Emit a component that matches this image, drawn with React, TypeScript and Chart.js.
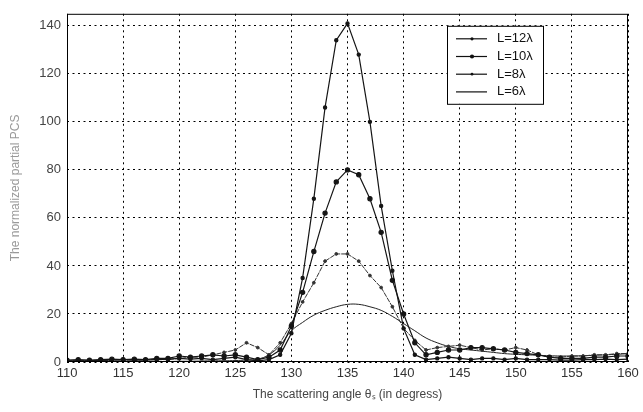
import { useEffect, useRef } from "react";
import { Chart, registerables } from "chart.js";

Chart.register(...registerables);

const angles = [
  110, 111, 112, 113, 114, 115, 116, 117, 118, 119,
  120, 121, 122, 123, 124, 125, 126, 127, 128, 129,
  130, 131, 132, 133, 134, 135, 136, 137, 138, 139,
  140, 141, 142, 143, 144, 145, 146, 147, 148, 149,
  150, 151, 152, 153, 154, 155, 156, 157, 158, 159, 160,
];

const l12 = [
  0.5, 0.5, 0.5, 0.8, 0.8, 1, 0.8, 0.8, 1, 1.2,
  1.5, 1.2, 1.5, 1, 1.5, 2, 1, 0.5, 1, 3,
  12, 35, 68, 106, 134, 141, 128, 100, 65, 38,
  14, 3, 1, 1.5, 2, 1.5, 1, 1.5, 1.5, 1,
  1.5, 1, 1, 1, 0.8, 0.8, 1, 1, 1.2, 1, 1.2,
];

const l10 = [
  0.8, 1, 0.8, 1, 1.2, 1, 1.2, 1, 1.5, 1.5,
  2.5, 2, 2.5, 3, 2.5, 3, 2, 1, 2, 5,
  15, 29, 46, 62, 75, 80, 78, 68, 54, 34,
  20, 8, 3, 4, 5, 5, 6, 6, 5.5, 5,
  4, 3.5, 3, 2, 1.5, 1.5, 1.5, 2, 2, 2.5, 2.5,
];

const l8 = [
  0.3, 0.5, 0.5, 0.5, 0.8, 0.8, 0.8, 1, 1, 1,
  1.5, 2, 2, 3, 4, 5, 8, 6, 3, 8,
  16, 25, 33, 42, 45, 45, 42, 36, 31, 23,
  14, 9, 5, 6, 6.5, 7, 6, 5, 5.5, 5,
  6, 5, 3, 2, 2, 2.5, 2.5, 3, 3, 3.5, 3.5,
];

const l6 = [
  0.2, 0.2, 0.2, 0.2, 0.2, 0.2, 0.2, 0.2, 0.2, 0.2,
  0.3, 0.3, 0.4, 0.5, 0.5, 0.6, 0.8, 1.2, 3, 7,
  13, 16.5, 19.5, 21.5, 23, 24, 24, 23, 21.5, 19,
  16, 13, 10, 8, 6.5, 5.5, 5, 4.5, 4, 3.5,
  3.2, 3, 2.8, 2.6, 2.5, 2.5, 2.6, 2.8, 3, 3.2, 3.5,
];

const seriesLabels = ["L=12\u03bb", "L=10\u03bb", "L=8\u03bb", "L=6\u03bb"];
const yTicks = [0, 20, 40, 60, 80, 100, 120, 140];
const xTicks = [110, 115, 120, 125, 130, 135, 140, 145, 150, 155, 160];

const pts = (ys: number[]) => angles.map((x, i) => ({ x, y: ys[i] }));

const framePlugin = {
  id: "frame",
  afterDraw(chart: any) {
    const { ctx, chartArea: a } = chart;
    ctx.save();
    ctx.strokeStyle = "#000";
    ctx.lineWidth = 1;
    ctx.strokeRect(a.left + 0.5, a.top + 0.5, a.right - a.left - 1, a.bottom - a.top - 1);
    // legend box
    const w = 96;
    const h = 78;
    const bx = a.right - 85 - w;
    const by = a.top + 12;
    ctx.fillStyle = "#fff";
    ctx.fillRect(bx, by, w, h);
    ctx.strokeRect(bx + 0.5, by + 0.5, w, h);
    ctx.font = "13px 'Liberation Sans', Arial, sans-serif";
    ctx.textBaseline = "middle";
    chart.data.datasets.forEach((ds: any, i: number) => {
      const y = by + 13 + i * 17.7;
      ctx.strokeStyle = "#111";
      ctx.lineWidth = 1.2;
      ctx.beginPath();
      ctx.moveTo(bx + 9, y);
      ctx.lineTo(bx + 40, y);
      ctx.stroke();
      if (ds.pointRadius > 0) {
        ctx.fillStyle = "#111";
        ctx.beginPath();
        ctx.arc(bx + 25, y, ds.pointRadius, 0, Math.PI * 2);
        ctx.fill();
      }
      ctx.fillStyle = "#111";
      ctx.textAlign = "left";
      ctx.fillText(ds.label, bx + 50, y);
    });
    ctx.restore();
  },
};

export default function App() {
  const ref = useRef<HTMLCanvasElement>(null);
  useEffect(() => {
    if (!ref.current) return;
    const line = "#151515";
    const chart = new Chart(ref.current, {
      type: "line",
      data: {
        datasets: [
          { label: seriesLabels[0], data: pts(l12), borderColor: line, backgroundColor: line, borderWidth: 1.2, pointRadius: 1.6, pointStyle: "circle", tension: 0 },
          { label: seriesLabels[1], data: pts(l10), borderColor: line, backgroundColor: line, borderWidth: 1.2, pointRadius: 2.1, pointStyle: "circle", tension: 0 },
          { label: seriesLabels[2], data: pts(l8), borderColor: "#333", backgroundColor: "#333", borderWidth: 1, pointRadius: 1.4, pointStyle: "circle", tension: 0, borderDash: [5, 1] },
          { label: seriesLabels[3], data: pts(l6), borderColor: "#222", backgroundColor: "#222", borderWidth: 1, pointRadius: 0, tension: 0.4 },
        ],
      },
      options: {
        animation: false,
        responsive: false,
        maintainAspectRatio: false,
        layout: { padding: { left: 0, right: 15, top: 7, bottom: 0 } },
        plugins: { legend: { display: false }, tooltip: { enabled: false } },
        scales: {
          x: {
            type: "linear",
            min: 110,
            max: 160,
            afterBuildTicks: (s: any) => { s.ticks = xTicks.map((v) => ({ value: v })); },
            afterFit: (s: any) => { s.height = 50; },
            ticks: { color: "#333", font: { size: 13, family: "'Liberation Sans', Arial" }, padding: 4, maxRotation: 0 },
            grid: { color: "#000", lineWidth: 1, drawTicks: false },
            border: { display: false, dash: [2, 3.5] },
            title: { display: true, text: "The scattering angle \u03b8\u209b (in degress)", color: "#444", font: { size: 12, family: "'Liberation Sans', Arial" }, padding: { top: 2, bottom: 10 } },
          },
          y: {
            min: 0,
            max: 145,
            afterBuildTicks: (s: any) => { s.ticks = yTicks.map((v) => ({ value: v })); },
            afterFit: (s: any) => { s.width = 67; },
            ticks: { color: "#444", font: { size: 13, family: "'Liberation Sans', Arial" }, padding: 6 },
            grid: { color: "#000", lineWidth: 1, drawTicks: false },
            border: { display: false, dash: [2, 3.5] },
            title: { display: true, text: "The normalized partial PCS", color: "#999", font: { size: 12, family: "'Liberation Sans', Arial" }, padding: { top: 8, bottom: 0 } },
          },
        },
      },
      plugins: [framePlugin],
    } as any);
    return () => chart.destroy();
  }, []);
  return (
    <div style={{ position: "absolute", left: 0, top: 0, width: 643, height: 412 }}>
      <canvas ref={ref} width={643} height={412} style={{ width: 643, height: 412, display: "block" }} />
    </div>
  );
}
